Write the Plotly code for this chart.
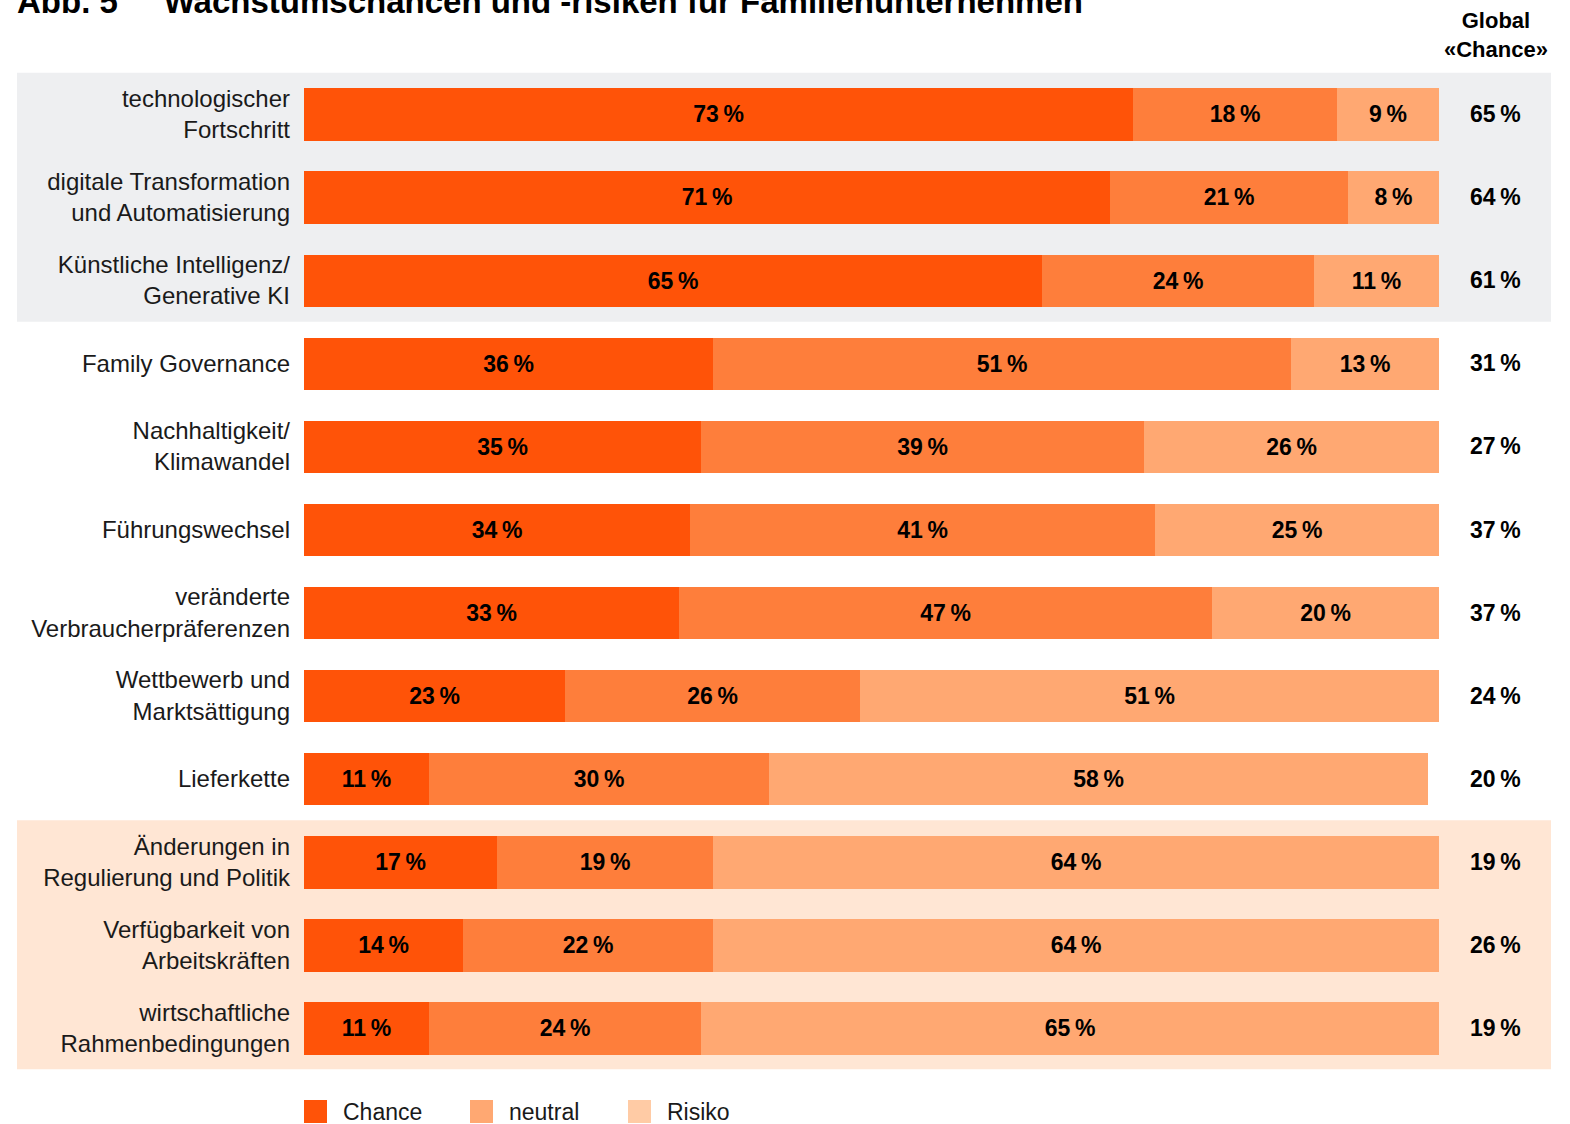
import plotly.graph_objects as go

# ---------------- data ----------------
categories = [
    "technologischer<br>Fortschritt",
    "digitale Transformation<br>und Automatisierung",
    "Künstliche Intelligenz/<br>Generative KI",
    "Family Governance",
    "Nachhaltigkeit/<br>Klimawandel",
    "Führungswechsel",
    "veränderte<br>Verbraucherpräferenzen",
    "Wettbewerb und<br>Marktsättigung",
    "Lieferkette",
    "Änderungen in<br>Regulierung und Politik",
    "Verfügbarkeit von<br>Arbeitskräften",
    "wirtschaftliche<br>Rahmenbedingungen",
]
chance = [73, 71, 65, 36, 35, 34, 33, 23, 11, 17, 14, 11]
neutral = [18, 21, 24, 51, 39, 41, 47, 26, 30, 19, 22, 24]
risiko = [9, 8, 11, 13, 26, 25, 20, 51, 58, 64, 64, 65]
global_chance = [65, 64, 61, 31, 27, 37, 37, 24, 20, 19, 26, 19]
series_names = ["Chance", "neutral", "Risiko"]
title_text = "Abb. 5" + "\u00a0" * 5 + "Wachstumschancen und -risiken für Familienunternehmen"
header_text = "Global<br>«Chance»"

# ---------------- style ----------------
W, H = 1570, 1124
FONT = "Liberation Sans, Arial, Helvetica, sans-serif"
bar_colors = ["#FF5308", "#FE7E3B", "#FFA872"]
legend_colors = ["#FF5308", "#FFA872", "#FFCBA5"]
TXT = "#1a1a1a"

ypos = list(range(len(categories)))

def pct(v):
    return f"{v}\u2009%"

fig = go.Figure()
for name, vals, col in zip(series_names, [chance, neutral, risiko], bar_colors):
    fig.add_trace(go.Bar(
        y=ypos, x=vals, orientation="h", name=name,
        marker=dict(color=col, line=dict(width=0)),
        width=0.63,
        text=[pct(v) for v in vals],
        textposition="inside", insidetextanchor="middle", textangle=0,
        textfont=dict(family=FONT, size=23, color="black", weight="bold"),
        hoverinfo="skip", showlegend=False,
    ))

shapes = [
    dict(type="rect", xref="paper", yref="y", x0=17 / W, x1=1551 / W, y0=-0.5, y1=2.5,
         fillcolor="#EEEFF1", line=dict(width=0), layer="below"),
    dict(type="rect", xref="paper", yref="y", x0=17 / W, x1=1551 / W, y0=8.5, y1=11.5,
         fillcolor="#FFE6D4", line=dict(width=0), layer="below"),
]

annotations = []
for i, g in enumerate(global_chance):
    annotations.append(dict(
        xref="paper", yref="y", x=1495 / W, y=i, text=f"<b>{pct(g)}</b>",
        showarrow=False, xanchor="center", yanchor="middle",
        font=dict(family=FONT, size=23, color="black"),
    ))
annotations.append(dict(
    xref="paper", yref="paper", x=1496 / W, y=1 - 35 / H, text=f"<b>{header_text}</b>",
    showarrow=False, xanchor="center", yanchor="middle",
    font=dict(family=FONT, size=22, color="black"),
))
annotations.append(dict(
    xref="paper", yref="paper", x=15 / W, y=1 - 22 / H, text=f"<b>{title_text}</b>",
    showarrow=False, xanchor="left", yanchor="bottom",
    font=dict(family=FONT, size=33, color="black"),
))

# manual legend with large square swatches
legend_x = [304, 470, 628]
for name, col, lx in zip(series_names, legend_colors, legend_x):
    shapes.append(dict(type="rect", xref="paper", yref="paper",
                       x0=lx / W, x1=(lx + 23) / W, y0=1 - 1123 / H, y1=1 - 1100 / H,
                       fillcolor=col, line=dict(width=0)))
    annotations.append(dict(
        xref="paper", yref="paper", x=(lx + 37) / W, y=1 - 1112 / H, text=name,
        showarrow=False, xanchor="left", yanchor="middle",
        font=dict(family=FONT, size=23, color=TXT),
    ))

fig.update_layout(
    width=W, height=H,
    margin=dict(l=0, r=0, t=0, b=0),
    paper_bgcolor="white", plot_bgcolor="rgba(0,0,0,0)",
    barmode="stack", bargap=0,
    uniformtext=dict(minsize=23, mode="show"),
    font=dict(family=FONT, color=TXT),
    xaxis=dict(domain=[304 / W, 1439 / W], range=[0, 100], visible=False, fixedrange=True),
    yaxis=dict(
        domain=[1 - 1069.6 / H, 1 - 72.5 / H], range=[11.5, -0.5],
        tickmode="array", tickvals=ypos, ticktext=categories,
        ticks="", ticklabelstandoff=13, showgrid=False, zeroline=False, showline=False,
        tickfont=dict(family=FONT, size=24, color=TXT), fixedrange=True,
    ),
    shapes=shapes, annotations=annotations,
    showlegend=False,
)

fig.write_html("out.html")
